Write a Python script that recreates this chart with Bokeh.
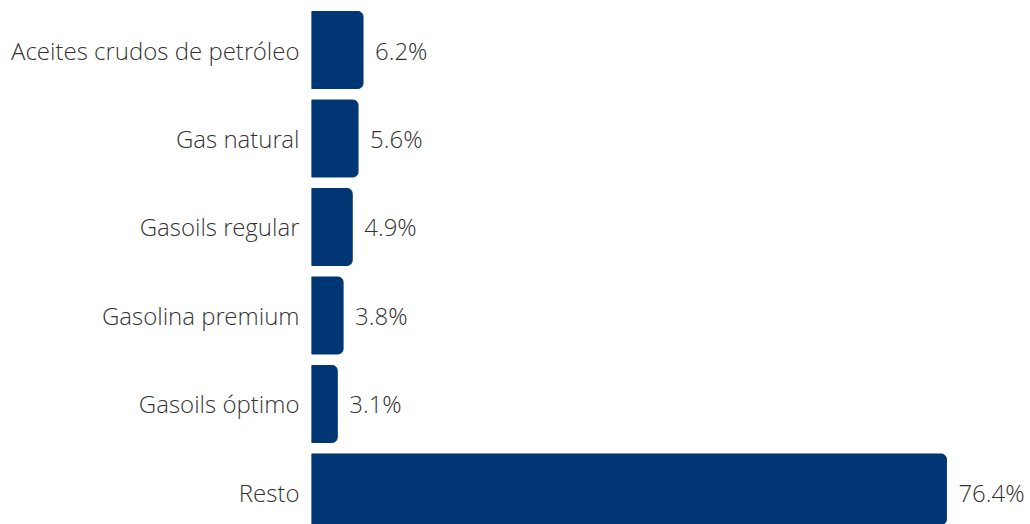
from bokeh.plotting import figure
from bokeh.models import ColumnDataSource, Range1d, FixedTicker, LabelSet
from bokeh.embed import file_html
from bokeh.resources import INLINE
from bokeh.core.properties import value

categories = ["Aceites crudos de petróleo", "Gas natural", "Gasoils regular",
              "Gasolina premium", "Gasoils óptimo", "Resto"]
values = [6.2, 5.6, 4.9, 3.8, 3.1, 76.4]
value_labels = ["6.2%", "5.6%", "4.9%", "3.8%", "3.1%", "76.4%"]

FONT = "Open Sans Light"

pos = list(range(len(categories)))
src = ColumnDataSource(dict(y=pos, v=values, lab=value_labels))

p = figure(width=1030, height=524, output_backend="svg", toolbar_location=None,
           x_range=Range1d(0, 86.52), y_range=Range1d(5.362, -0.469),
           min_border_left=311, min_border_right=0, min_border_top=8, min_border_bottom=0)
p.outline_line_color = None
p.xgrid.visible = False
p.ygrid.visible = False
p.xaxis.visible = False

p.hbar(y="y", right="v", left=0, height=0.87, source=src, color="#003674",
       border_radius=(0, 5, 5, 0))

lbl = LabelSet(x="v", y="y", text="lab", source=src, x_offset=12,
               text_align="left", text_baseline="middle",
               text_font=value(FONT), text_font_size="24px", text_color="#333333")
p.add_layout(lbl)

ax = p.yaxis[0]
ax.ticker = FixedTicker(ticks=pos)
ax.major_label_overrides = {i: c for i, c in zip(pos, categories)}
ax.axis_line_color = None
ax.major_tick_line_color = None
ax.minor_tick_line_color = None
ax.major_label_standoff = 6
ax.major_label_text_font = FONT
ax.major_label_text_font_size = "24px"
ax.major_label_text_color = "#333333"

open("out.html", "w").write(file_html(p, INLINE))
